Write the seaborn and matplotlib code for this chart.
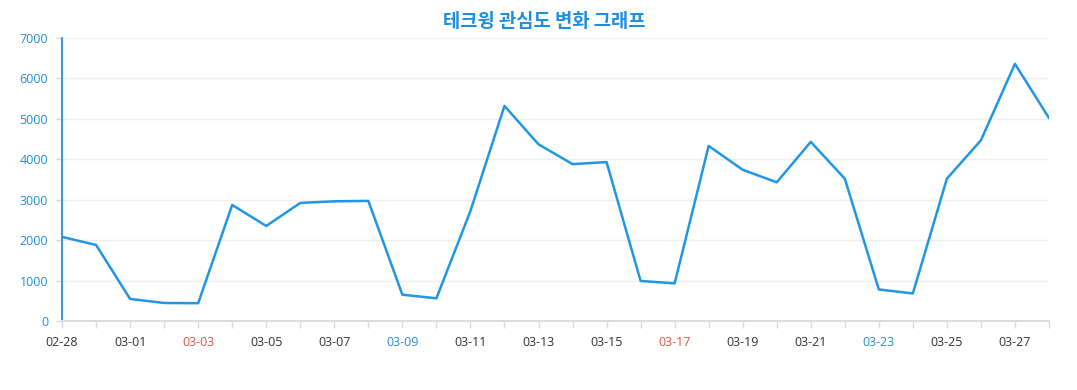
import pandas as pd
import matplotlib
matplotlib.use('Agg')
import matplotlib.pyplot as plt
import seaborn as sns

# Daily interest values
dates = ['02-28', '02-29', '03-01', '03-02', '03-03', '03-04', '03-05', '03-06',
         '03-07', '03-08', '03-09', '03-10', '03-11', '03-12', '03-13', '03-14',
         '03-15', '03-16', '03-17', '03-18', '03-19', '03-20', '03-21', '03-22',
         '03-23', '03-24', '03-25', '03-26', '03-27', '03-28']
values = [2080, 1880, 545, 445, 440, 2870, 2350, 2920, 2960, 2970,
          650, 560, 2720, 5320, 4370, 3880, 3930, 990, 930, 4330,
          3740, 3430, 4430, 3520, 780, 680, 3520, 4470, 6360, 5020]
saturdays = ['03-02', '03-09', '03-16', '03-23']
sundays = ['03-03', '03-10', '03-17', '03-24']

df = pd.DataFrame({'date': dates, 'value': values})
df['idx'] = range(len(df))

sns.set_theme(style='white')
plt.rcParams['font.family'] = ['Open Sans', 'Noto Sans CJK KR', 'DejaVu Sans']

fig = plt.figure(figsize=(10.77, 3.90), dpi=100)
ax = fig.add_axes([0.0576, 0.177, 0.9164, 0.7256])

sns.lineplot(data=df, x='idx', y='value', ax=ax, color='#2196e3', linewidth=1.8)

ax.set_xlim(0, len(dates) - 1)
ax.set_ylim(0, 7000)
ax.set_yticks(range(0, 7001, 1000))
ax.set_yticklabels([str(v) for v in range(0, 7001, 1000)], color='#1e8fd5', fontsize=9)
ax.yaxis.grid(True, color='#efefef', linewidth=1)
ax.xaxis.grid(False)

ax.set_xticks(df['idx'])
labels = [d if i % 2 == 0 else '' for i, d in enumerate(dates)]
ax.set_xticklabels(labels, fontsize=9, color='#333333')
for lab, d in zip(ax.get_xticklabels(), dates):
    if d in saturdays:
        lab.set_color('#2a8fca')
    elif d in sundays:
        lab.set_color('#df5640')

ax.tick_params(axis='x', length=5, color='#d9d9d9', width=1, bottom=True, pad=6)
ax.tick_params(axis='y', length=4, color='#d9d9d9', width=1, left=True, pad=6)

for s in ['top', 'right']:
    ax.spines[s].set_visible(False)
ax.spines['bottom'].set_color('#dcdcdc')
ax.spines['bottom'].set_linewidth(1.5)
ax.spines['left'].set_color('#2a8fd5')
ax.spines['left'].set_linewidth(1.3)

ax.set_xlabel('')
ax.set_ylabel('')

fig.text(0.505, 0.945, '테크윙 관심도 변화 그래프', ha='center', va='center',
         fontsize=13.5, fontweight='bold', color='#1e8fe0',
         family=['Noto Sans CJK KR', 'DejaVu Sans'])

fig.savefig('out.png', dpi=100)
